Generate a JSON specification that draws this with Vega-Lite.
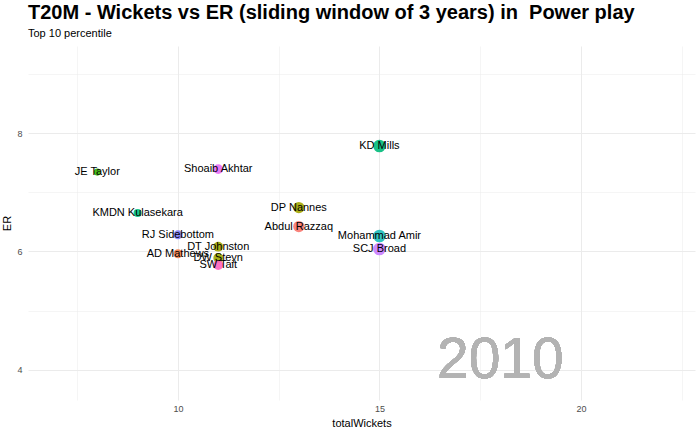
{
  "$schema": "https://vega.github.io/schema/vega-lite/v6.json",
  "autosize": "none",
  "width": 667,
  "height": 354,
  "padding": {"left": 28, "top": 46, "right": 5, "bottom": 32},
  "background": "white",
  "config": {
    "font": "Liberation Sans",
    "view": {"stroke": null},
    "axis": {"domain": false, "ticks": false, "gridColor": "#ebebeb", "labelColor": "#4d4d4d", "labelFontSize": 9, "titleFontSize": 11, "titleFontWeight": "normal", "titleColor": "black"}
  },
  "title": {
    "text": "T20M - Wickets vs ER (sliding window of 3 years) in\u00a0 Power play",
    "subtitle": "Top 10 percentile",
    "anchor": "start",
    "frame": "group",
    "fontSize": 20,
    "fontWeight": "bold",
    "subtitleFontSize": 11,
    "subtitleColor": "black",
    "subtitlePadding": 5,
    "offset": 7,
    "color": "black"
  },
  "data": {
    "values": [
      {"player": "JE Taylor", "totalWickets": 8, "ER": 7.34, "year": 2010},
      {"player": "Shoaib Akhtar", "totalWickets": 11, "ER": 7.39, "year": 2010},
      {"player": "KMDN Kulasekara", "totalWickets": 9, "ER": 6.65, "year": 2010},
      {"player": "RJ Sidebottom", "totalWickets": 10, "ER": 6.28, "year": 2010},
      {"player": "AD Mathews", "totalWickets": 10, "ER": 5.96, "year": 2010},
      {"player": "DT Johnston", "totalWickets": 11, "ER": 6.08, "year": 2010},
      {"player": "DW Steyn", "totalWickets": 11, "ER": 5.89, "year": 2010},
      {"player": "SW Tait", "totalWickets": 11, "ER": 5.77, "year": 2010},
      {"player": "DP Nannes", "totalWickets": 13, "ER": 6.74, "year": 2010},
      {"player": "Abdul Razzaq", "totalWickets": 13, "ER": 6.42, "year": 2010},
      {"player": "KD Mills", "totalWickets": 15, "ER": 7.78, "year": 2010},
      {"player": "Mohammad Amir", "totalWickets": 15, "ER": 6.26, "year": 2010},
      {"player": "SCJ Broad", "totalWickets": 15, "ER": 6.04, "year": 2010}
    ]
  },
  "encoding": {
    "x": {"field": "totalWickets", "type": "quantitative", "scale": {"domain": [6.28, 22.83], "nice": false, "zero": false},
      "axis": {"values": [7.5, 10, 12.5, 15, 17.5, 20, 22.5], "labelExpr": "datum.value % 5 == 0 ? datum.label : ''", "gridWidth": {"condition": {"test": "datum.value % 5 != 0", "value": 0.5}, "value": 1}, "labelPadding": 4, "titlePadding": 4, "title": "totalWickets"}},
    "y": {"field": "ER", "type": "quantitative", "scale": {"domain": [3.49, 9.47], "nice": false, "zero": false},
      "axis": {"values": [4, 5, 6, 7, 8, 9], "labelExpr": "datum.value % 2 == 0 ? datum.label : ''", "gridWidth": {"condition": {"test": "datum.value % 2 != 0", "value": 0.5}, "value": 1}, "labelPadding": 6, "titlePadding": 4, "title": "ER"}}
  },
  "layer": [
    {
      "mark": {"type": "text", "fontSize": 57, "color": "#b3b3b3", "baseline": "alphabetic", "align": "center"},
      "encoding": {"x": {"datum": 18}, "y": {"datum": 3.87}, "text": {"value": "2010"}}
    },
    {
      "mark": {"type": "circle", "opacity": 0.9},
      "encoding": {
        "color": {"field": "player", "type": "nominal", "legend": null,
          "scale": {"domain": ["JE Taylor", "Shoaib Akhtar", "KMDN Kulasekara", "RJ Sidebottom", "AD Mathews", "DT Johnston", "DW Steyn", "SW Tait", "DP Nannes", "Abdul Razzaq", "KD Mills", "Mohammad Amir", "SCJ Broad"],
            "range": ["#39B600", "#E76BF3", "#00BF7D", "#7F7CF5", "#F07D48", "#A3A500", "#9DA700", "#FF62BC", "#A3A500", "#F8766D", "#00BA7A", "#1ABDBA", "#C77CFF"]}},
        "size": {"field": "totalWickets", "type": "quantitative", "legend": null, "scale": {"domain": [8, 15], "range": [50, 160]}}
      }
    },
    {
      "mark": {"type": "text", "fontSize": 11, "color": "black", "baseline": "middle", "align": "center"},
      "encoding": {"text": {"field": "player"}}
    }
  ]
}
